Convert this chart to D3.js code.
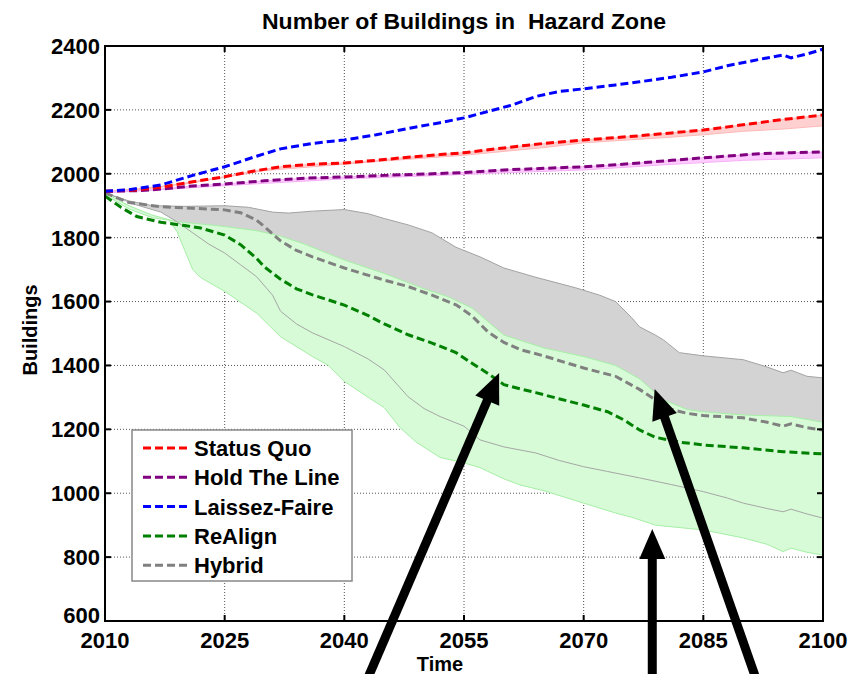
<!DOCTYPE html>
<html>
<head>
<meta charset="utf-8">
<script src="https://cdn.jsdelivr.net/npm/d3@7/dist/d3.min.js"></script>
<style>
  html, body { margin: 0; padding: 0; background: #fff; }
  svg { display: block; }
  text { font-family: Arial, "Liberation Sans", Helvetica, sans-serif; fill: #000; }
</style>
</head>
<body>
<svg id="chart" width="851" height="674"></svg>
<script>
// ---- Data: [year, buildings] ----
const laissezFaire = [[2010,1945],[2013,1950],[2017,1965],[2021,1995],[2025,2022],[2029,2055],[2032,2078],[2036,2095],[2040,2106],[2044,2122],[2048,2142],[2052,2160],[2055,2175],[2058,2195],[2061,2215],[2064,2242],[2067,2258],[2070,2266],[2074,2278],[2077,2288],[2081,2302],[2085,2319],[2088,2338],[2092,2358],[2095,2372],[2096,2363],[2098,2375],[2100,2390]];

const statusQuo = [[2010,1945],[2014,1950],[2017,1958],[2021,1975],[2025,1991],[2029,2010],[2032,2022],[2036,2030],[2040,2034],[2044,2042],[2048,2052],[2052,2060],[2055,2066],[2060,2081],[2065,2095],[2070,2106],[2074,2113],[2077,2119],[2081,2128],[2085,2137],[2089,2150],[2092,2160],[2095,2170],[2100,2184]];
const statusQuoLow = [[2010,1943],[2020,1968],[2030,2010],[2045,2040],[2055,2058],[2065,2082],[2070,2097],[2075,2105],[2080,2113],[2085,2122],[2090,2133],[2095,2140],[2100,2150]];

const holdTheLine = [[2010,1945],[2014,1947],[2017,1952],[2021,1962],[2025,1968],[2030,1978],[2035,1986],[2040,1990],[2045,1995],[2050,1999],[2055,2004],[2060,2012],[2065,2017],[2070,2022],[2074,2028],[2077,2034],[2081,2042],[2085,2050],[2089,2057],[2092,2063],[2096,2066],[2100,2068]];
const holdTheLineLow = [[2010,1940],[2020,1955],[2030,1970],[2040,1984],[2050,1993],[2060,2003],[2070,2012],[2080,2028],[2085,2035],[2090,2042],[2095,2046],[2100,2050]];

const hybridMean = [[2010,1940],[2013,1910],[2017,1897],[2021,1892],[2025,1887],[2027,1878],[2029,1855],[2030,1834],[2032,1790],[2034,1760],[2036,1740],[2040,1705],[2045,1667],[2048,1647],[2051,1620],[2054,1590],[2056,1555],[2058,1505],[2060,1472],[2062,1450],[2065,1430],[2068,1407],[2070,1392],[2074,1366],[2077,1325],[2079,1292],[2081,1262],[2083,1250],[2085,1243],[2090,1236],[2093,1222],[2095,1210],[2096,1217],[2098,1205],[2100,1198]];
const hybridHigh = [[2010,1940],[2013,1915],[2016,1900],[2020,1898],[2025,1900],[2028,1895],[2031,1880],[2033,1877],[2036,1883],[2040,1888],[2043,1875],[2045,1860],[2048,1840],[2051,1815],[2054,1770],[2057,1740],[2060,1705],[2064,1676],[2069,1643],[2072,1620],[2074,1600],[2076,1550],[2077,1521],[2079,1495],[2080,1480],[2082,1440],[2085,1430],[2090,1418],[2093,1395],[2095,1377],[2096,1385],[2098,1366],[2100,1361]];
const hybridLow = [[2010,1940],[2014,1902],[2017,1880],[2019,1850],[2021,1815],[2023,1780],[2025,1752],[2027,1715],[2029,1678],[2031,1620],[2032,1570],[2034,1530],[2036,1502],[2040,1459],[2043,1420],[2045,1386],[2047,1330],[2048,1302],[2050,1265],[2052,1240],[2055,1210],[2057,1167],[2060,1145],[2064,1126],[2067,1102],[2070,1083],[2073,1068],[2077,1048],[2081,1027],[2085,1005],[2088,985],[2090,969],[2093,952],[2095,942],[2096,950],[2098,935],[2100,922]];

const reAlignMean = [[2010,1930],[2012,1895],[2014,1866],[2017,1848],[2020,1838],[2022,1830],[2025,1808],[2027,1778],[2029,1735],[2030,1708],[2032,1670],[2034,1640],[2036,1621],[2040,1589],[2043,1556],[2045,1530],[2048,1496],[2051,1470],[2054,1440],[2056,1407],[2058,1375],[2060,1340],[2062,1327],[2064,1315],[2067,1295],[2070,1276],[2073,1255],[2075,1230],[2077,1198],[2079,1175],[2082,1160],[2085,1151],[2090,1142],[2095,1130],[2100,1123]];
const reAlignHigh = [[2010,1940],[2013,1900],[2016,1870],[2019,1850],[2024,1838],[2029,1822],[2032,1805],[2035,1780],[2040,1730],[2045,1688],[2050,1640],[2053,1615],[2056,1580],[2060,1495],[2065,1455],[2070,1428],[2074,1400],[2077,1358],[2080,1292],[2083,1262],[2085,1255],[2090,1245],[2096,1240],[2100,1222]];
const reAlignLow = [[2010,1935],[2013,1890],[2016,1862],[2018,1855],[2019,1820],[2020,1760],[2021,1700],[2022,1675],[2025,1632],[2029,1564],[2032,1490],[2036,1428],[2038,1400],[2040,1350],[2043,1300],[2045,1268],[2047,1205],[2049,1160],[2052,1112],[2055,1095],[2057,1080],[2060,1045],[2062,1026],[2065,1008],[2070,969],[2074,938],[2076,925],[2079,900],[2085,885],[2090,860],[2093,840],[2095,817],[2096,828],[2098,815],[2100,806]];

const xTicks = [2010, 2025, 2040, 2055, 2070, 2085, 2100];
const yTicks = [600, 800, 1000, 1200, 1400, 1600, 1800, 2000, 2200, 2400];

const legendNames = ["Status Quo", "Hold The Line", "Laissez-Faire", "ReAlign", "Hybrid"];
const legendColors = ["#ff0000", "#800080", "#0000ff", "#008000", "#808080"];

// Annotation arrows: [tailYear, tailValue, tipYear, tipValue]
const arrows = [[2042.3, 384, 2059.4, 1376], [2092.1, 384, 2078.9, 1326], [2078.6, 384, 2078.6, 888]];

// ---- Layout ----
const svg = d3.select("#chart");
const plotL = 105, plotR = 823, plotT = 46, plotB = 621;

const x = d3.scaleLinear().domain([2010, 2100]).range([plotL, plotR]);
const y = d3.scaleLinear().domain([600, 2400]).range([plotB, plotT]);

const line = d3.line().x(d => x(d[0])).y(d => y(d[1]));

function bandPath(hi, lo) {
  const pts = hi.map(d => [x(d[0]), y(d[1])])
    .concat(lo.slice().reverse().map(d => [x(d[0]), y(d[1])]));
  return "M" + pts.map(p => p.join(",")).join("L") + "Z";
}

// grid
const grid = svg.append("g");
grid.selectAll("line.gx").data(xTicks.slice(1, -1)).join("line")
  .attr("x1", d => x(d)).attr("x2", d => x(d)).attr("y1", plotT).attr("y2", plotB)
  .attr("stroke", "#555").attr("stroke-width", 1).attr("stroke-dasharray", "1,2");
grid.selectAll("line.gy").data(yTicks.slice(1, -1)).join("line")
  .attr("y1", d => y(d)).attr("y2", d => y(d)).attr("x1", plotL).attr("x2", plotR)
  .attr("stroke", "#555").attr("stroke-width", 1).attr("stroke-dasharray", "1,2");

// uncertainty bands
svg.append("path").attr("d", bandPath(hybridHigh, hybridLow))
  .attr("fill", "#d3d3d3").attr("stroke", "none");
svg.append("path").attr("d", line(hybridHigh))
  .attr("fill", "none").attr("stroke", "#a3a3a3").attr("stroke-width", 1);
svg.append("path").attr("d", bandPath(reAlignHigh, reAlignLow))
  .attr("fill", "#d6fbd6").attr("stroke", "#a6efa6").attr("stroke-width", 1);
svg.append("path").attr("d", line(hybridLow))
  .attr("fill", "none").attr("stroke", "#a6a6a6").attr("stroke-width", 1);
svg.append("path").attr("d", bandPath(statusQuo, statusQuoLow))
  .attr("fill", "#ffd0d0").attr("stroke", "#ffb8b8").attr("stroke-width", 1);
svg.append("path").attr("d", bandPath(holdTheLine, holdTheLineLow))
  .attr("fill", "#ffccff").attr("stroke", "#f5b0f5").attr("stroke-width", 1);

// mean lines
const series = [
  [reAlignMean, "#008000"], [hybridMean, "#808080"], [holdTheLine, "#800080"],
  [statusQuo, "#ff0000"], [laissezFaire, "#0000ff"]
];
series.forEach(([data, color]) => {
  svg.append("path").attr("d", line(data))
    .attr("fill", "none").attr("stroke", color).attr("stroke-width", 3)
    .attr("stroke-dasharray", "8,4");
});

// axes box with inward ticks
const axes = svg.append("g");
axes.append("rect").attr("x", plotL).attr("y", plotT).attr("width", plotR - plotL).attr("height", plotB - plotT)
  .attr("fill", "none").attr("stroke", "#000").attr("stroke-width", 2);
const tk = 6;
xTicks.forEach(t => {
  axes.append("line").attr("x1", x(t)).attr("x2", x(t)).attr("y1", plotB).attr("y2", plotB - tk).attr("stroke", "#000").attr("stroke-width", 2);
  axes.append("line").attr("x1", x(t)).attr("x2", x(t)).attr("y1", plotT).attr("y2", plotT + tk).attr("stroke", "#000").attr("stroke-width", 2);
});
yTicks.forEach(t => {
  axes.append("line").attr("x1", plotL).attr("x2", plotL + tk).attr("y1", y(t)).attr("y2", y(t)).attr("stroke", "#000").attr("stroke-width", 2);
  axes.append("line").attr("x1", plotR).attr("x2", plotR - tk).attr("y1", y(t)).attr("y2", y(t)).attr("stroke", "#000").attr("stroke-width", 2);
});
axes.selectAll("text.xl").data(xTicks).join("text")
  .attr("x", d => x(d)).attr("y", 648).attr("text-anchor", "middle")
  .attr("font-size", 22).attr("font-weight", "bold").text(d => d);
axes.selectAll("text.yl").data(yTicks).join("text")
  .attr("x", plotL - 5).attr("y", d => y(d)).attr("dy", d => d === 600 ? "0.1em" : "0.36em").attr("text-anchor", "end")
  .attr("font-size", 22).attr("font-weight", "bold").text(d => d);

// axis titles
svg.append("text").attr("x", 440).attr("y", 671).attr("text-anchor", "middle")
  .attr("font-size", 20).attr("font-weight", "bold").text("Time");
svg.append("text").attr("transform", "translate(37,330) rotate(-90)").attr("text-anchor", "middle")
  .attr("font-size", 20).attr("font-weight", "bold").text("Buildings");
svg.append("text").attr("x", 464).attr("y", 29).attr("text-anchor", "middle")
  .attr("font-size", 22).attr("font-weight", "bold")
  .attr("textLength", 404).attr("lengthAdjust", "spacingAndGlyphs")
  .text("Number of Buildings in\u00a0\u00a0Hazard Zone");

// legend
const lg = svg.append("g");
lg.append("rect").attr("x", 132).attr("y", 430).attr("width", 220).attr("height", 151)
  .attr("fill", "#fff").attr("stroke", "#888").attr("stroke-width", 1.5);
legendNames.forEach((name, i) => {
  const cy = 448 + i * 29.3;
  lg.append("line").attr("x1", 143).attr("x2", 189).attr("y1", cy).attr("y2", cy)
    .attr("stroke", legendColors[i]).attr("stroke-width", 3).attr("stroke-dasharray", "8,4");
  lg.append("text").attr("x", 194).attr("y", cy).attr("dy", "0.36em")
    .attr("font-size", 22).attr("font-weight", "bold").text(name);
});

// annotation arrows
const ag = svg.append("g");
arrows.forEach(([x0, y0, x1, y1]) => {
  const ax = x(x0), ay = y(y0), bx = x(x1), by = y(y1);
  const dx = bx - ax, dy = by - ay, len = Math.hypot(dx, dy);
  const ux = dx / len, uy = dy / len, px = -uy, py = ux;
  const hl = 30, hw = 13;
  const baseX = bx - ux * hl, baseY = by - uy * hl;
  ag.append("line").attr("x1", ax).attr("y1", ay).attr("x2", baseX + ux * 2).attr("y2", baseY + uy * 2)
    .attr("stroke", "#000").attr("stroke-width", 9);
  ag.append("path")
    .attr("d", `M${bx},${by}L${baseX + px * hw},${baseY + py * hw}L${baseX - px * hw},${baseY - py * hw}Z`)
    .attr("fill", "#000");
});
</script>
</body>
</html>
